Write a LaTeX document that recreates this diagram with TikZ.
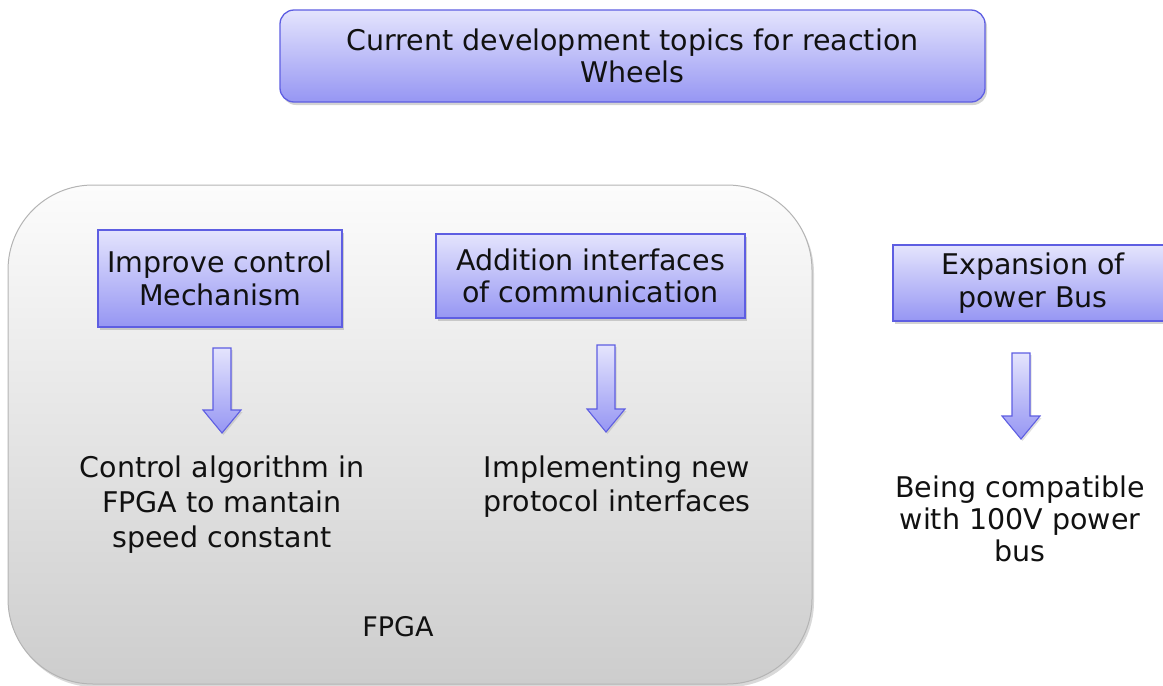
\documentclass[tikz,border=0pt]{standalone}
\usepackage{fontspec}
\setmainfont{DejaVu Sans}
\usetikzlibrary{calc,shadows}
\definecolor{boxtop}{HTML}{E4E4FD}
\definecolor{boxbot}{HTML}{9696F3}
\definecolor{boxline}{HTML}{5E5EE2}
\definecolor{paneltop}{HTML}{FCFCFC}
\definecolor{panelbot}{HTML}{CDCDCD}
\definecolor{panelline}{HTML}{B4B4B4}
\definecolor{ink}{HTML}{111111}
\tikzset{
  topic/.style={draw=boxline, line width=1.3pt, top color=boxtop, bottom color=boxbot,
    align=center, inner sep=0pt, text=ink, font=\fontsize{28.5}{32.5}\selectfont,
    drop shadow={shadow xshift=2pt, shadow yshift=-3pt, opacity=0.35}},
  result/.style={align=center, inner sep=0pt, text=ink, font=\fontsize{28.5}{34}\selectfont},
  barrow/.style={draw=boxline, line width=1.1pt, top color=boxtop, bottom color=boxbot,
    line join=miter,
    drop shadow={shadow xshift=1.5pt, shadow yshift=-2pt, opacity=0.25}},
}
% block arrow from the start point #1 down to the tip #2
\newcommand\blockarrowdown[2]{%
  \path[barrow] ($(#1)+(-9,0)$) -- ($(#2)+(-9,-23)$) -- ($(#2)+(-19,-23)$) -- (#2)
    -- ($(#2)+(19,-23)$) -- ($(#2)+(9,-23)$) -- ($(#1)+(9,0)$) -- cycle;}
\begin{document}
\begin{tikzpicture}[x=1pt,y=-1pt]
\useasboundingbox (0,0) rectangle (1163,686);

% FPGA panel
\node[draw=panelline, line width=1pt, rounded corners=85pt, top color=paneltop,
  bottom color=panelbot, minimum width=804pt, minimum height=499pt,
  drop shadow={shadow xshift=2pt, shadow yshift=-3pt, opacity=0.3}]
  (panel) at (410,434.5) {};
\node[text=ink, font=\fontsize{27}{30}\selectfont] (fpga) at (398,627) {FPGA};

% title
\node[topic, rounded corners=14pt, minimum width=705pt, minimum height=92pt]
  (title) at (632.5,56) {Current development topics for reaction\\Wheels};

% topic boxes
\node[topic, minimum width=244pt, minimum height=97pt] (ctrl) at (220,278.5)
  {Improve control\\Mechanism};
\node[topic, minimum width=309pt, minimum height=84pt] (comm) at (590.5,276)
  {Addition interfaces\\of communication};
\node[topic, minimum width=280pt, minimum height=76pt] (bus) at (1033,283)
  {Expansion of\\power Bus};

% outcomes
\node[result, font=\fontsize{28.5}{35}\selectfont] (algo) at (222,505)
  {Control algorithm in\\FPGA to mantain\\speed constant};
\node[result] (proto) at (617,487) {Implementing new\\protocol interfaces};
\node[result, font=\fontsize{28.5}{32}\selectfont] (compat) at (1020,519)
  {Being compatible\\with 100V power\\bus};

% arrows between topics and outcomes
\coordinate (a1s) at (222,348);  \coordinate (a1e) at (222,433);
\coordinate (a2s) at (606,345);  \coordinate (a2e) at (606,432);
\coordinate (a3s) at (1021,353); \coordinate (a3e) at (1021,439);
\blockarrowdown{a1s}{a1e}
\blockarrowdown{a2s}{a2e}
\blockarrowdown{a3s}{a3e}
\end{tikzpicture}
\end{document}
